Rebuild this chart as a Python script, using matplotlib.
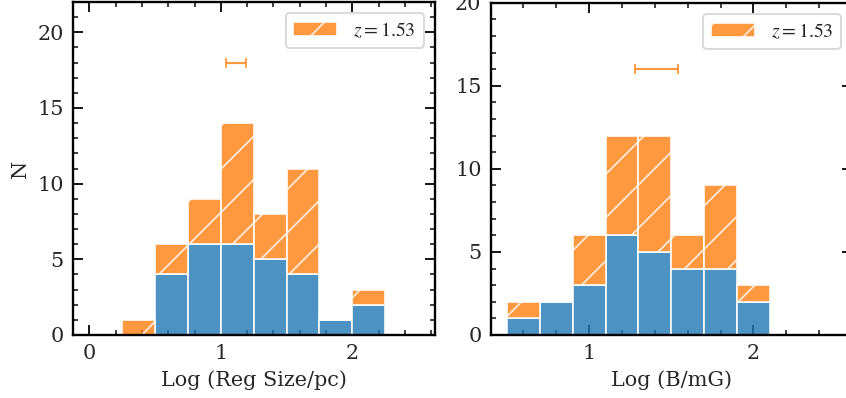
import numpy as np
import matplotlib
matplotlib.use("Agg")
import matplotlib.pyplot as plt
from matplotlib.ticker import MultipleLocator

# region size histogram (log pc)
size_bins = [0.25, 0.5, 0.75, 1.0, 1.25, 1.5, 1.75, 2.0, 2.25]
size_base = [0, 4, 6, 6, 5, 4, 1, 2]
size_z153 = [1, 2, 3, 8, 3, 7, 0, 1]
size_err_x, size_err_y, size_err_dx = 1.115, 18, 0.075

# magnetic field histogram (log mG)
b_bins = [0.5, 0.7, 0.9, 1.1, 1.3, 1.5, 1.7, 1.9, 2.1]
b_base = [1, 2, 3, 6, 5, 4, 4, 2]
b_z153 = [1, 0, 3, 6, 7, 2, 5, 1]
b_err_x, b_err_y, b_err_dx = 1.41, 16, 0.13

z_label = r"$z=1.53$"

DPI = 130
plt.rcParams["font.family"] = "serif"
plt.rcParams["font.serif"] = ["DejaVu Serif"]
plt.rcParams["mathtext.fontset"] = "stix"
plt.rcParams["hatch.linewidth"] = 1.0
plt.rcParams["axes.linewidth"] = 1.3
plt.rcParams["text.color"] = "0.15"
plt.rcParams["axes.labelcolor"] = "0.15"
plt.rcParams["xtick.color"] = "0.1"
plt.rcParams["ytick.color"] = "0.1"
plt.rcParams["xtick.labelcolor"] = "0.15"
plt.rcParams["ytick.labelcolor"] = "0.15"

BLUE = "#1f77b4"
ORANGE = "#ff7f0e"


def draw_panel(ax, bins, base, extra, err, xlim, ylim, xlabel):
    edges = np.asarray(bins)
    left = edges[:-1]
    width = np.diff(edges)
    ax.bar(left, base, width=width, align="edge", color=BLUE, alpha=0.8,
           edgecolor="white", linewidth=1.1)
    ax.bar(left, extra, width=width, bottom=base, align="edge", color=ORANGE,
           alpha=0.8, edgecolor="white", linewidth=1.1, hatch="/",
           label=z_label)
    ex, ey, edx = err
    ax.errorbar(ex, ey, xerr=edx, fmt="none", ecolor=ORANGE, alpha=0.8,
                elinewidth=1.2, capsize=2.8, capthick=1.0)

    ax.set_xlim(*xlim)
    ax.set_ylim(*ylim)
    ax.set_axisbelow(True)
    ax.xaxis.set_major_locator(MultipleLocator(1))
    ax.xaxis.set_minor_locator(MultipleLocator(0.2))
    ax.yaxis.set_major_locator(MultipleLocator(5))
    ax.yaxis.set_minor_locator(MultipleLocator(1))
    ax.tick_params(which="both", direction="in", top=True, right=True,
                   labelsize=11.5)
    ax.tick_params(which="major", length=5.5, width=1.1, pad=5)
    ax.tick_params(which="minor", length=2.8, width=0.9)
    for sp in ax.spines.values():
        sp.set_color("black")
    ax.set_xlabel(xlabel, fontsize=11.5, labelpad=4)
    ax.legend(loc="upper right", fontsize=11, handlelength=2.2,
              borderaxespad=0.55)


fig = plt.figure(figsize=(846 / DPI, 398 / DPI), dpi=DPI)
ax1 = fig.add_axes([73 / 846, 63 / 398, 361.5 / 846, 333 / 398])
ax2 = fig.add_axes([490.5 / 846, 63 / 398, 361.5 / 846, 332.3 / 398])

draw_panel(ax1, size_bins, size_base, size_z153,
           (size_err_x, size_err_y, size_err_dx),
           (-0.125, 2.625), (0, 22), "Log (Reg Size/pc)")
ax1.set_ylabel("N", fontsize=11.5)

draw_panel(ax2, b_bins, b_base, b_z153,
           (b_err_x, b_err_y, b_err_dx),
           (0.4, 2.6), (0, 20), "Log (B/mG)")

fig.savefig("out.png", dpi=DPI)
